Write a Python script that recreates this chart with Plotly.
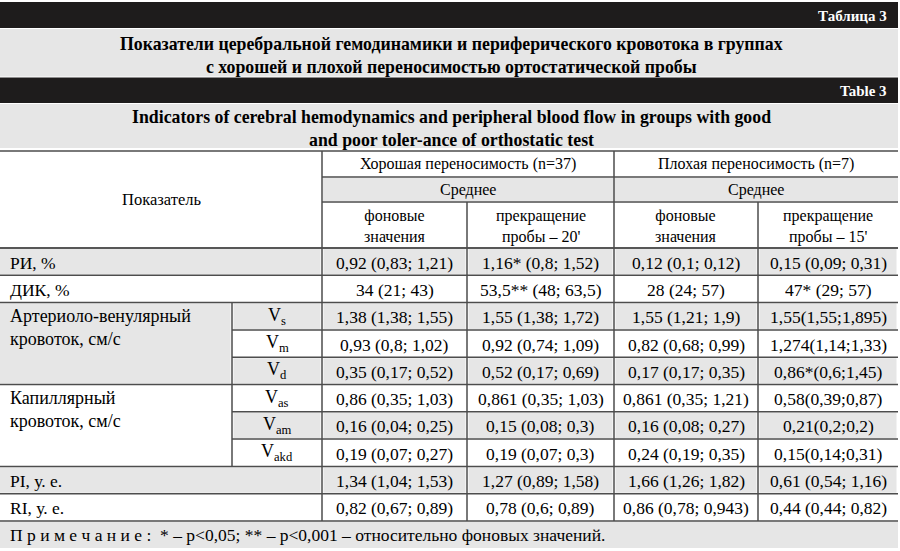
import plotly.graph_objects as go

# ---- table content ----
table_no_ru = "Таблица 3"
title_ru = ("Показатели церебральной гемодинамики и периферического кровотока в группах<br>"
            "с хорошей и плохой переносимостью ортостатической пробы")
table_no_en = "Table 3"
title_en = ("Indicators of cerebral hemodynamics and peripheral blood flow in groups with good<br>"
            "and poor toler-ance of orthostatic test")

indicator_header = "Показатель"
groups = ["Хорошая переносимость (n=37)", "Плохая переносимость (n=7)"]
stat_label = "Среднее"
periods = ["фоновые<br>значения", "прекращение<br>пробы – 20'",
           "фоновые<br>значения", "прекращение<br>пробы – 15'"]

indicators = ["РИ, %", "ДИК, %", "Артериоло-венулярный<br>кровоток, см/с",
              "Капиллярный<br>кровоток, см/с", "PI, у. е.", "RI, у. е."]
indicator_span = [1, 1, 3, 3, 1, 1]
sub_params = [None, None, "V<sub>s</sub>", "V<sub>m</sub>", "V<sub>d</sub>",
              "V<sub>as</sub>", "V<sub>am</sub>", "V<sub>akd</sub>", None, None]

good_bg = ["0,92 (0,83; 1,21)", "34 (21; 43)", "1,38 (1,38; 1,55)", "0,93 (0,8; 1,02)",
           "0,35 (0,17; 0,52)", "0,86 (0,35; 1,03)", "0,16 (0,04; 0,25)",
           "0,19 (0,07; 0,27)", "1,34 (1,04; 1,53)", "0,82 (0,67; 0,89)"]
good_end = ["1,16* (0,8; 1,52)", "53,5** (48; 63,5)", "1,55 (1,38; 1,72)", "0,92 (0,74; 1,09)",
            "0,52 (0,17; 0,69)", "0,861 (0,35; 1,03)", "0,15 (0,08; 0,3)",
            "0,19 (0,07; 0,3)", "1,27 (0,89; 1,58)", "0,78 (0,6; 0,89)"]
poor_bg = ["0,12 (0,1; 0,12)", "28 (24; 57)", "1,55 (1,21; 1,9)", "0,82 (0,68; 0,99)",
           "0,17 (0,17; 0,35)", "0,861 (0,35; 1,21)", "0,16 (0,08; 0,27)",
           "0,24 (0,19; 0,35)", "1,66 (1,26; 1,82)", "0,86 (0,78; 0,943)"]
poor_end = ["0,15 (0,09; 0,31)", "47* (29; 57)", "1,55(1,55;1,895)", "1,274(1,14;1,33)",
            "0,86*(0,6;1,45)", "0,58(0,39;0,87)", "0,21(0,2;0,2)",
            "0,15(0,14;0,31)", "0,61 (0,54; 1,16)", "0,44 (0,44; 0,82)"]

note = ("П р и м е ч а н и е :  * – p&lt;0,05; ** – p&lt;0,001 – "
        "относительно фоновых значений.")

# ---- layout geometry ----
W, H = 900, 551
col_edges = [0, 232, 322, 467, 614, 758, 898]
head_y = [151, 177, 202, 248]
row_h = 27.3
GREY = "#e6e6e6"
BLACK = "#1e1c1c"
LINE = "#4d4d4d"
SERIF = "Liberation Serif, DejaVu Serif, serif"

shapes = []
annotations = []


def rect(x0, y0, x1, y1, color):
    shapes.append(dict(type="rect", x0=x0, y0=y0, x1=x1, y1=y1, xref="x", yref="y",
                       fillcolor=color, line=dict(width=0), layer="below"))


def hline(y, x0, x1):
    shapes.append(dict(type="line", x0=x0, x1=x1, y0=y, y1=y, xref="x", yref="y",
                       line=dict(color=LINE, width=1.5)))


def vline(x, y0, y1):
    shapes.append(dict(type="line", x0=x, x1=x, y0=y0, y1=y1, xref="x", yref="y",
                       line=dict(color=LINE, width=1.5)))


def text(x, y, s, size=17, anchor="center", color="black", bold=False):
    annotations.append(dict(x=x, y=y, xref="x", yref="y", text=s, showarrow=False,
                            xanchor=anchor, yanchor="middle", align=anchor,
                            font=dict(family=SERIF, size=size, color=color,
                                      weight="bold" if bold else "normal")))


# title block
rect(0, 2, 898, 28, BLACK)
rect(0, 29, 898, 76.5, GREY)
rect(0, 77.5, 898, 103, BLACK)
rect(0, 104, 898, 148, GREY)
text(889, 15.5, table_no_ru, size=15, anchor="right", color="white", bold=True)
text(451, 55, title_ru, size=17.8, bold=True)
text(889, 90.5, table_no_en, size=15, anchor="right", color="white", bold=True)
text(451, 128.5, title_en, size=17.8, bold=True)

# header
c = col_edges
rect(c[2] + 1, head_y[1] + 1, c[6], head_y[2] - 1, GREY)
hline(head_y[0], 0, c[6])
hline(head_y[1], c[2], c[6])
hline(head_y[2], c[2], c[6])
hline(head_y[3], 0, c[6])
text((c[0] + c[2]) / 2, (head_y[0] + head_y[3]) / 2, indicator_header, size=16.5)
for g, name in enumerate(groups):
    gx = (c[2 + 2 * g] + c[4 + 2 * g]) / 2
    text(gx, (head_y[0] + head_y[1]) / 2, name, size=16)
    text(gx, (head_y[1] + head_y[2]) / 2, stat_label, size=16)
for k, p in enumerate(periods):
    text((c[2 + k] + c[3 + k]) / 2, (head_y[2] + head_y[3]) / 2 + 1, p, size=16)

# body
n_rows = len(good_bg)
tops = [head_y[3] + row_h * i for i in range(n_rows + 1)]
body_bottom = tops[-1]
value_cols = [good_bg, good_end, poor_bg, poor_end]

starts = []
r = 0
for span in indicator_span:
    starts.append(r)
    r += span

for i in range(n_rows):
    y0, y1 = tops[i], tops[i + 1]
    ym = (y0 + y1) / 2
    grey = i % 2 == 0
    if grey:
        for k in range(4):
            rect(c[2 + k] + 1.5, y0 + 1, c[3 + k] - 1.5, y1 - 1, GREY)
        if sub_params[i] is not None:
            rect(c[1] + 1.5, y0 + 1, c[2] - 1.5, y1 - 1, GREY)
    for k, vals in enumerate(value_cols):
        text((c[2 + k] + c[3 + k]) / 2, ym + 1, vals[i], size=17.5)
    if sub_params[i] is not None:
        text((c[1] + c[2]) / 2, ym, sub_params[i], size=18)
    # horizontal line at row top
    hline(y0, 0 if i in starts else c[1], c[6])

for j, (s0, span) in enumerate(zip(starts, indicator_span)):
    y0, y1 = tops[s0], tops[s0 + span]
    right = c[1] if span > 1 else c[2]
    if s0 % 2 == 0:
        rect(0, y0 + 1, right - 1.5, y1 - 1, GREY)
    if span > 1:
        text(8, y0 + 25, indicators[j], size=18, anchor="left")
        vline(c[1], y0, y1)
    else:
        text(8, (y0 + y1) / 2 + 1, indicators[j], size=17.5, anchor="left")

hline(body_bottom, 0, c[6])
vline(c[2], head_y[0], body_bottom)
vline(c[4], head_y[0], body_bottom)
vline(c[3], head_y[2], body_bottom)
vline(c[5], head_y[2], body_bottom)

# note row
rect(0, body_bottom + 1, c[6], body_bottom + 27, GREY)
text(8, body_bottom + 14, note, size=17.5, anchor="left")

fig = go.Figure()
fig.update_layout(
    width=W, height=H,
    margin=dict(l=0, r=0, t=0, b=0),
    paper_bgcolor="white", plot_bgcolor="white",
    xaxis=dict(range=[0, W], visible=False, fixedrange=True),
    yaxis=dict(range=[H, 0], visible=False, fixedrange=True),
    shapes=shapes, annotations=annotations,
    showlegend=False,
)
fig.write_html("out.html", post_script="document.body.style.margin='0';",
               config={"displayModeBar": False})
